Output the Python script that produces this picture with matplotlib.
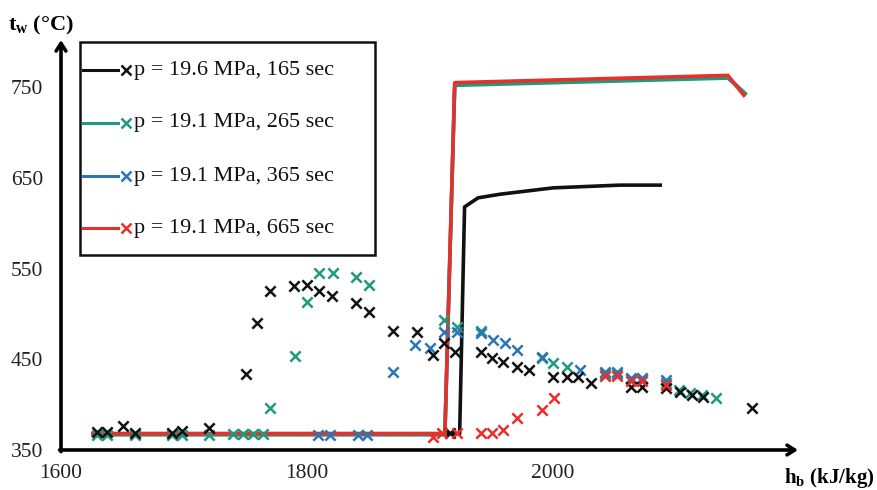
import matplotlib
matplotlib.use('Agg')
import matplotlib.pyplot as plt
from matplotlib.lines import Line2D
from matplotlib.patches import Rectangle

plt.rcParams['font.family'] = ['Liberation Serif', 'DejaVu Serif']
plt.rcParams['mathtext.fontset'] = 'custom'
plt.rcParams['mathtext.rm'] = 'Liberation Serif'
plt.rcParams['mathtext.it'] = 'Liberation Serif:italic'
plt.rcParams['mathtext.bf'] = 'Liberation Serif:bold'

# ---------------- data ----------------
series_labels = ['p = 19.6 MPa, 165 sec', 'p = 19.1 MPa, 265 sec',
                 'p = 19.1 MPa, 365 sec', 'p = 19.1 MPa, 665 sec']
series_colors = ['#111111', '#1f9a7e', '#2e75b6', '#e8302a']

x_ticks = [1600, 1800, 2000]
y_ticks = [350, 450, 550, 650, 750]

# calculated wall temperature (lines)
line_h_165 = [1626, 1924, 1928, 1939, 1957, 2000, 2054, 2087]
line_t_165 = [368, 368, 618, 628, 632, 639, 642, 642]
line_h_265 = [1626, 1912, 1920, 2142, 2156]
line_t_265 = [367, 367, 752, 760, 743]
line_h_365 = [1626, 1912, 1920, 2142, 2156]
line_t_365 = [367, 367, 753, 761, 743]
line_h_665 = [1626, 1912, 1920, 2142, 2155]
line_t_665 = [368, 368, 755, 763, 741]

# measured wall temperature (crosses)
pts_h_165 = [1629, 1637, 1650, 1660, 1690, 1698, 1720, 1750, 1759, 1770, 1789,
             1800, 1810, 1820, 1840, 1850, 1870, 1889, 1902, 1911, 1916, 1920,
             1941, 1950, 1959, 1971, 1980, 2000, 2011, 2020, 2031, 2063, 2072,
             2092, 2103, 2113, 2122, 2162]
pts_t_165 = [370, 370, 377, 369, 369, 371, 374, 434, 490, 525, 531,
             532, 525, 520, 512, 502, 481, 480, 455, 468, 369, 458,
             458, 451, 447, 441, 438, 430, 430, 430, 424, 420, 420,
             418, 414, 411, 408, 396]

pts_h_265 = [1629, 1637, 1660, 1690, 1698, 1720, 1740, 1748, 1756, 1764, 1770,
             1790, 1800, 1810, 1821, 1840, 1850, 1911, 1922, 1941, 1991, 2000,
             2011, 2042, 2052, 2063, 2072, 2092, 2102, 2111, 2121, 2132]
pts_t_265 = [367, 367, 367, 367, 367, 367, 368, 368, 368, 368, 396,
             454, 513, 545, 545, 541, 532, 493, 486, 481, 451, 446,
             442, 434, 434, 428, 428, 424, 416, 413, 411, 407]

pts_h_365 = [1809, 1819, 1841, 1849, 1870, 1888, 1900, 1911, 1922, 1941, 1951,
             1961, 1971, 1991, 2022, 2042, 2052, 2063, 2072, 2092]
pts_t_365 = [367, 367, 366, 366, 436, 466, 462, 480, 480, 479, 471,
             468, 460, 453, 438, 436, 436, 429, 429, 427]

pts_h_665 = [1902, 1910, 1922, 1941, 1950, 1959, 1971, 1991, 2001, 2042, 2052,
             2063, 2072, 2092]
pts_t_665 = [364, 369, 369, 369, 369, 372, 385, 394, 407, 432, 432,
             426, 426, 422]

# ---------------- figure ----------------
W, H = 878, 490
fig = plt.figure(figsize=(W / 100, H / 100), dpi=100)
L, R, T, B = 61, 798, 40, 450
ax = fig.add_axes([L / W, (H - B) / H, (R - L) / W, (B - T) / H])
ax.set_xlim(1600, 2199)
ax.set_ylim(350, 802)

# draw order: black, blue, green, red (green peeks out under red)
lines = [(line_h_165, line_t_165, 0), (line_h_365, line_t_365, 2),
         (line_h_265, line_t_265, 1), (line_h_665, line_t_665, 3)]
for hx, ty, i in lines:
    ax.plot(hx, ty, color=series_colors[i], lw=2.6, solid_joinstyle='round',
            zorder=2)

pts = [(pts_h_265, pts_t_265, 1), (pts_h_365, pts_t_365, 2),
       (pts_h_165, pts_t_165, 0), (pts_h_665, pts_t_665, 3)]
for hx, ty, i in pts:
    ax.scatter(hx, ty, marker='x', s=55, linewidths=1.8,
               color=series_colors[i], zorder=3)

for s in ax.spines.values():
    s.set_visible(False)
ax.set_xticks(x_ticks)
ax.set_yticks(y_ticks)
ax.tick_params(length=0, labelsize=15.5, colors='#222222')
ax.tick_params(axis='y', pad=13)
ax.tick_params(axis='x', pad=10)

arrow = dict(arrowstyle='->,head_length=0.55,head_width=0.35', lw=2.6,
             color='black', shrinkA=0, shrinkB=0)
ax.annotate('', xy=(0, 1), xytext=(0, -0.004), xycoords='axes fraction',
            arrowprops=arrow)
ax.annotate('', xy=(1, 0), xytext=(-0.002, 0), xycoords='axes fraction',
            arrowprops=arrow)

fig.text(8 / W, 1 - 25 / H, r'$\mathbf{t}_{\mathbf{w}}$ (°C)', fontsize=16,
         fontweight='bold', va='center', ha='left')
fig.text(874 / W, 1 - 478 / H, r'$\mathbf{h}_{\mathbf{b}}$ (kJ/kg)', fontsize=15,
         fontweight='bold', va='center', ha='right')

# legend box
def fx(x):
    return x / W

def fy(y):
    return 1 - y / H

fig.add_artist(Rectangle((fx(80), fy(255)), fx(375) - fx(80), fy(42) - fy(255),
                         transform=fig.transFigure, fill=True, facecolor='white',
                         edgecolor='#111111', lw=1.8, zorder=5))
rows = [70, 123, 176, 228]
for yy, lab, c in zip(rows, series_labels, series_colors):
    fig.add_artist(Line2D([fx(83), fx(118)], [fy(yy), fy(yy)],
                          transform=fig.transFigure, color=c, lw=2.2, zorder=6))
    fig.add_artist(Line2D([fx(126)], [fy(yy)], transform=fig.transFigure,
                          marker='x', markersize=7, markeredgewidth=1.8,
                          color=c, zorder=6))
    fig.text(fx(134), fy(yy), lab, fontsize=16, va='center', ha='left',
             color='#111111', zorder=7)

fig.savefig('out.png', dpi=100)
